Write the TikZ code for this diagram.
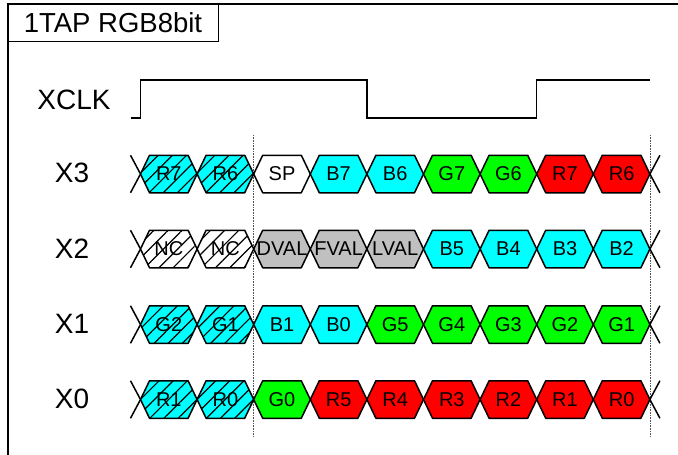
\documentclass[tikz,border=0pt]{standalone}
\usepackage{fontspec}
\setmainfont{Liberation Sans}
\usetikzlibrary{patterns.meta}

\definecolor{bitcyan}{RGB}{0,255,255}
\definecolor{bitgreen}{RGB}{0,255,0}
\definecolor{bitred}{RGB}{255,0,0}
\definecolor{bitgray}{RGB}{192,192,192}

\def\xzero{140.5}
\def\cellw{56.6}
\def\cellh{37.5}
\def\tip{9}

% #1 row, #2 column, #3 row y, #4 style, #5 label
\newcommand{\datacell}[5]{%
  \draw[cell,#4] ({\xzero+#2*\cellw},#3) -- ++(\tip,{-\cellh/2})
  -- ({\xzero+(#2+1)*\cellw-\tip},{#3-\cellh/2}) -- ({\xzero+(#2+1)*\cellw},#3)
  -- ({\xzero+(#2+1)*\cellw-\tip},{#3+\cellh/2}) -- ({\xzero+#2*\cellw+\tip},{#3+\cellh/2})
  -- cycle;
  \node[bitlbl] (#1-#2) at ({\xzero+(#2+0.5)*\cellw},#3) {#5};}

% crossing at both ends of a row
\newcommand{\rowends}[1]{%
  \draw[cell] ({\xzero-10},{#1-\cellh/2}) -- (\xzero,#1) -- ({\xzero-10},{#1+\cellh/2});
  \draw[cell] ({\xzero+9*\cellw+10},{#1-\cellh/2}) -- ({\xzero+9*\cellw},#1)
  -- ({\xzero+9*\cellw+10},{#1+\cellh/2});}

\begin{document}
\begin{tikzpicture}[x=1pt,y=-1pt,
    cell/.style={draw=black,line width=1.5pt,line join=round},
    bitlbl/.style={font=\fontsize{20}{22}\selectfont,inner sep=0pt},
    sig/.style={font=\fontsize{28}{30}\selectfont,inner sep=0pt},
    wave/.style={line width=1.5pt},
    bcell/.style={fill=bitcyan},
    gcell/.style={fill=bitgreen},
    rcell/.style={fill=bitred},
    ctrl/.style={fill=bitgray},
    wcell/.style={fill=white},
    hatchb/.style={preaction={fill=bitcyan},pattern={Lines[angle=45,distance=10pt,line width=1.2pt]}},
    hatchw/.style={preaction={fill=white},pattern={Lines[angle=45,distance=10pt,line width=1.2pt]}}]

  \useasboundingbox (0,0) rectangle (678,455);

  % frame and title
  \draw[line width=1.5pt] (8,470) -- (8,4) -- (690,4);
  \draw[line width=1pt] (8,4) rectangle (218,41)
  node[midway,font=\fontsize{27.5}{29}\selectfont] (title) {1TAP RGB8bit};

  % clock
  \node[sig] (xclk) at (74,100) {XCLK};
  \draw[wave] ({\xzero-10},118) -- (\xzero,118) -- (\xzero,80)
  -- ({\xzero+4*\cellw},80) -- ({\xzero+4*\cellw},118)
  -- ({\xzero+7*\cellw},118) -- ({\xzero+7*\cellw},80) -- ({\xzero+9*\cellw},80);

  % cycle boundaries
  \draw[densely dotted,gray!70!black,line width=0.6pt] ({\xzero+2*\cellw},135) -- ({\xzero+2*\cellw},437);
  \draw[densely dotted,gray!70!black,line width=0.6pt] ({\xzero+9*\cellw},135) -- ({\xzero+9*\cellw},437);

  % X3
  \node[sig] (x3) at (72,173) {X3};
  \rowends{174}
  \datacell{x3}{0}{174}{hatchb}{R7}
  \datacell{x3}{1}{174}{hatchb}{R6}
  \datacell{x3}{2}{174}{wcell}{SP}
  \datacell{x3}{3}{174}{bcell}{B7}
  \datacell{x3}{4}{174}{bcell}{B6}
  \datacell{x3}{5}{174}{gcell}{G7}
  \datacell{x3}{6}{174}{gcell}{G6}
  \datacell{x3}{7}{174}{rcell}{R7}
  \datacell{x3}{8}{174}{rcell}{R6}

  % X2
  \node[sig] (x2) at (72,249) {X2};
  \rowends{249}
  \datacell{x2}{0}{249}{hatchw}{NC}
  \datacell{x2}{1}{249}{hatchw}{NC}
  \datacell{x2}{2}{249}{ctrl}{DVAL}
  \datacell{x2}{3}{249}{ctrl}{FVAL}
  \datacell{x2}{4}{249}{ctrl}{LVAL}
  \datacell{x2}{5}{249}{bcell}{B5}
  \datacell{x2}{6}{249}{bcell}{B4}
  \datacell{x2}{7}{249}{bcell}{B3}
  \datacell{x2}{8}{249}{bcell}{B2}

  % X1
  \node[sig] (x1) at (72,324) {X1};
  \rowends{324.5}
  \datacell{x1}{0}{324.5}{hatchb}{G2}
  \datacell{x1}{1}{324.5}{hatchb}{G1}
  \datacell{x1}{2}{324.5}{bcell}{B1}
  \datacell{x1}{3}{324.5}{bcell}{B0}
  \datacell{x1}{4}{324.5}{gcell}{G5}
  \datacell{x1}{5}{324.5}{gcell}{G4}
  \datacell{x1}{6}{324.5}{gcell}{G3}
  \datacell{x1}{7}{324.5}{gcell}{G2}
  \datacell{x1}{8}{324.5}{gcell}{G1}

  % X0
  \node[sig] (x0) at (72,399) {X0};
  \rowends{399.5}
  \datacell{x0}{0}{399.5}{hatchb}{R1}
  \datacell{x0}{1}{399.5}{hatchb}{R0}
  \datacell{x0}{2}{399.5}{gcell}{G0}
  \datacell{x0}{3}{399.5}{rcell}{R5}
  \datacell{x0}{4}{399.5}{rcell}{R4}
  \datacell{x0}{5}{399.5}{rcell}{R3}
  \datacell{x0}{6}{399.5}{rcell}{R2}
  \datacell{x0}{7}{399.5}{rcell}{R1}
  \datacell{x0}{8}{399.5}{rcell}{R0}
\end{tikzpicture}
\end{document}
